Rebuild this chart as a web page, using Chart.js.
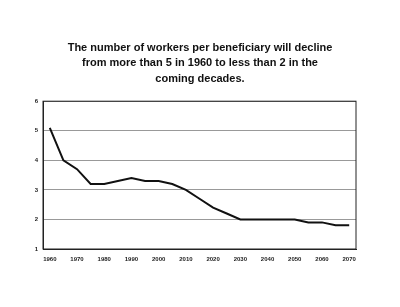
<!DOCTYPE html>
<html>
<head>
<meta charset="utf-8">
<script src="https://cdn.jsdelivr.net/npm/chart.js@4"></script>
<style>
  body { margin: 0; background: #fff; }
  canvas { display: block; }
</style>
</head>
<body>
<canvas id="workersChart" width="400" height="307"></canvas>
<script>
// Workers per beneficiary (5-year steps)
const years = [1960, 1965, 1970, 1975, 1980, 1985, 1990, 1995, 2000, 2005, 2010, 2015,
  2020, 2025, 2030, 2035, 2040, 2045, 2050, 2055, 2060, 2065, 2070];
const workersPerBeneficiary = [5.1, 4.0, 3.7, 3.2, 3.2, 3.3, 3.4, 3.3, 3.3, 3.2, 3.0, 2.7,
  2.4, 2.2, 2.0, 2.0, 2.0, 2.0, 2.0, 1.9, 1.9, 1.8, 1.8];
const yTicks = [1, 2, 3, 4, 5, 6];
const titleLines = [
  'The number of workers per beneficiary will decline',
  'from more than 5 in 1960 to less than 2 in the',
  'coming decades.'
];

// draw the box round the plot area
const frame = {
  id: 'frame',
  afterDraw(chart) {
    const { ctx, chartArea: a } = chart;
    ctx.save();
    ctx.strokeStyle = '#222';
    ctx.lineWidth = 1;
    ctx.strokeRect(a.left, a.top, a.right - a.left, a.bottom - a.top);
    ctx.restore();
  }
};

const ctx = document.getElementById('workersChart').getContext('2d');
new Chart(ctx, {
  type: 'line',
  data: {
    labels: years,
    datasets: [{
      data: workersPerBeneficiary,
      borderColor: '#111',
      borderWidth: 2,
      pointRadius: 0,
      tension: 0,
      fill: false
    }]
  },
  options: {
    responsive: false,
    animation: false,
    layout: { padding: 0 },
    plugins: {
      legend: { display: false },
      tooltip: { enabled: false },
      title: {
        display: true,
        text: titleLines,
        color: '#111',
        font: { family: 'Liberation Sans, Arial, sans-serif', size: 11, weight: 'bold', lineHeight: 1.4 },
        padding: { top: 40, bottom: 15 }
      }
    },
    scales: {
      x: {
        type: 'category',
        offset: true,
        grid: { display: false, drawTicks: true, tickLength: 3, tickColor: '#444' },
        border: { display: true, color: '#222' },
        afterFit: (axis) => { axis.height = 58; },
        ticks: {
          autoSkip: false,
          maxRotation: 0,
          padding: 4,
          color: '#222',
          font: { family: 'Liberation Sans, Arial, sans-serif', size: 6, weight: 'bold' },
          callback: function (val, index) {
            return years[index] % 10 === 0 ? String(years[index]) : '';
          }
        }
      },
      y: {
        min: 1,
        max: 6,
        afterFit: (axis) => { axis.width = 43; },
        afterBuildTicks: (axis) => { axis.ticks = yTicks.map((v) => ({ value: v })); },
        grid: { color: '#999', lineWidth: 1, drawTicks: false },
        border: { display: true, color: '#222' },
        ticks: {
          padding: 5,
          color: '#222',
          font: { family: 'Liberation Sans, Arial, sans-serif', size: 6, weight: 'bold' }
        }
      },
      // empty right-hand margin so the title stays centred on the page
      yRight: {
        position: 'right',
        min: 1,
        max: 6,
        afterFit: (axis) => { axis.width = 44; },
        grid: { display: false },
        border: { display: false },
        ticks: { display: false }
      }
    }
  },
  plugins: [frame]
});
</script>
</body>
</html>
